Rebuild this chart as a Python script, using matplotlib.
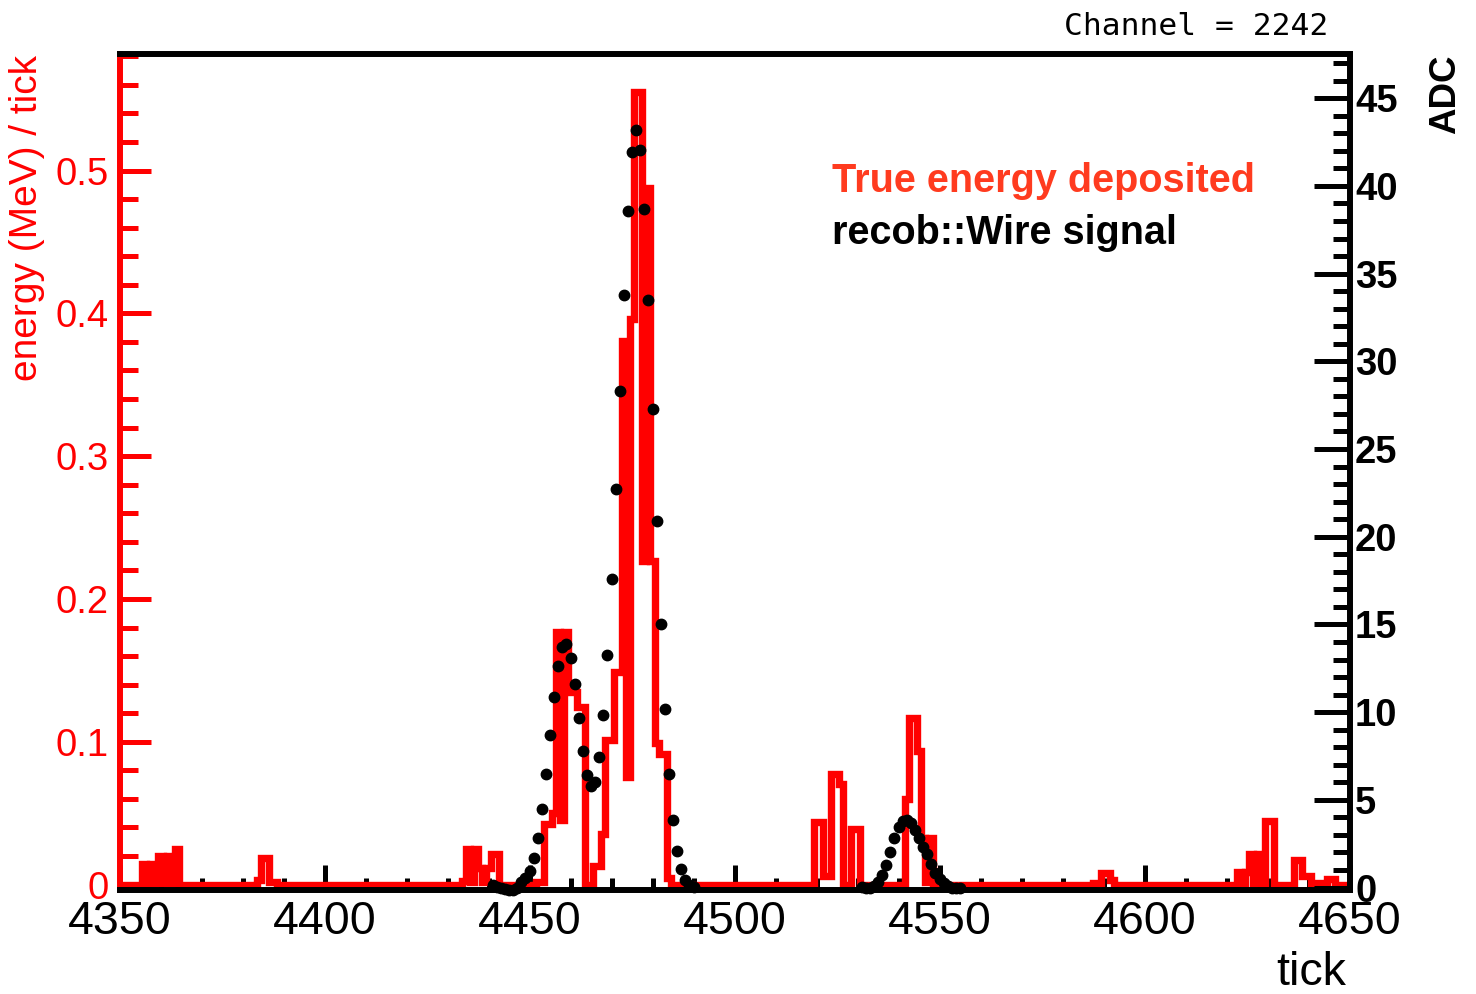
import numpy as np
import matplotlib
matplotlib.use("Agg")
import matplotlib.pyplot as plt
from matplotlib.ticker import MultipleLocator

plt.rcParams['font.family'] = ['Liberation Sans', 'DejaVu Sans']

# true energy deposited per tick (MeV), only the non-empty bins, all others are 0
energy_ticks = [4356, 4357, 4358, 4359, 4360, 4361, 4362, 4363, 4364,
                4384, 4385, 4386, 4387, 4388,
                4434, 4435, 4436, 4437, 4438, 4439, 4440, 4441, 4442,
                4452, 4453, 4454, 4455, 4456, 4457, 4458, 4459, 4460, 4461,
                4462, 4463, 4466, 4467, 4468, 4469, 4470, 4471, 4472,
                4473, 4474, 4475, 4476, 4477, 4478, 4479, 4480, 4481,
                4482, 4483, 4484,
                4520, 4521, 4522, 4523, 4524, 4525, 4526, 4529, 4530,
                4542, 4543, 4544, 4545, 4546, 4547, 4548,
                4588, 4589, 4590, 4591, 4592,
                4623, 4624, 4625, 4626, 4627, 4628, 4630, 4631,
                4637, 4638, 4639, 4640, 4641, 4642, 4643, 4644, 4645, 4646]
energy_vals = [0.0142, 0.0010, 0.0142, 0.0010, 0.0201, 0.0010, 0.0201, 0.0010, 0.0252,
               0.0035, 0.0189, 0.0189, 0.0015, 0.0015,
               0.0026, 0.0247, 0.0020, 0.0247, 0.0119, 0.0020, 0.0119, 0.0212, 0.0212,
               0.0015, 0.0015, 0.0422, 0.0422, 0.0504, 0.1770, 0.0450, 0.1770, 0.1345, 0.1345,
               0.1240, 0.1240, 0.0133, 0.0133, 0.0352, 0.1015, 0.1015, 0.1492, 0.1492,
               0.3803, 0.0750, 0.3959, 0.5551, 0.5551, 0.2269, 0.4881, 0.2269, 0.0994,
               0.0912, 0.0912, 0.0049,
               0.0439, 0.0439, 0.0060, 0.0060, 0.0772, 0.0772, 0.0702, 0.0387, 0.0387,
               0.0597, 0.1169, 0.1169, 0.0936, 0.0329, 0.0020, 0.0329,
               0.0014, 0.0014, 0.0084, 0.0084, 0.0035,
               0.0089, 0.0010, 0.0089, 0.0212, 0.0010, 0.0212, 0.0446, 0.0446,
               0.0173, 0.0173, 0.0063, 0.0063, 0.0014, 0.0014, 0.0014, 0.0014, 0.0042, 0.0042]

# recob::Wire signal (ADC), one point per tick inside the two ROIs
adc_ticks = list(range(4441, 4491)) + list(range(4531, 4556))
adc_vals = [0.15, 0.05, -0.05, -0.1, -0.15, -0.15, -0.05, 0.3, 0.55, 0.95,
            1.67, 2.84, 4.48, 6.47, 8.70, 10.88, 12.64, 13.70, 13.89, 13.11,
            11.59, 9.69, 7.80, 6.42, 5.79, 6.04, 7.43, 9.84, 13.26, 17.6,
            22.7, 28.3, 33.76, 38.55, 41.92, 43.17, 42.07, 38.69, 33.47, 27.28,
            20.87, 15.03, 10.18, 6.47, 3.85, 2.10, 1.04, 0.45, 0.15, 0.02,
            0.05, 0.0, -0.05, 0.1, 0.3, 0.7, 1.3, 2.0, 2.85, 3.45,
            3.8, 3.85, 3.7, 3.3, 2.8, 2.3, 1.9, 1.35, 0.85, 0.5,
            0.25, 0.1, 0.0, -0.05, -0.05]

xticks = [4350, 4400, 4450, 4500, 4550, 4600, 4650]
yticks_left = [0, 0.1, 0.2, 0.3, 0.4, 0.5]
yticks_right = [0, 5, 10, 15, 20, 25, 30, 35, 40, 45]

W, H = 1476, 994
fig = plt.figure(figsize=(W / 100, H / 100), dpi=100)
ax = fig.add_axes([119.5 / W, (H - 890) / H, 1230 / W, 836 / H])

# one bin per tick, centred on the tick number
edges = np.arange(4349.5, 4651, 1.0)
energy = np.zeros(len(edges) - 1)
for t, v in zip(energy_ticks, energy_vals):
    energy[t - 4350] = v
st = ax.stairs(energy, edges, color='red', lw=5.3, baseline=None, zorder=2)
st.set_joinstyle('miter')
st.set_capstyle('butt')

ax.set_xlim(4350, 4650)
ax.set_ylim(-0.0038, 0.5816)
ax.set_xticks(xticks)
ax.set_xticklabels([str(v) for v in xticks])
ax.xaxis.set_minor_locator(MultipleLocator(10))
ax.set_yticks(yticks_left)
ax.set_yticklabels(['0' if v == 0 else f'{v:.1f}' for v in yticks_left])
ax.yaxis.set_minor_locator(MultipleLocator(0.02))
ax.tick_params(axis='x', which='major', direction='in', length=18, width=3.6,
               labelsize=33.5, pad=7, top=False)
ax.tick_params(axis='x', which='minor', direction='in', length=8.5, width=3.6, top=False)
ax.tick_params(axis='y', which='major', direction='in', length=22, width=3.6, color='red',
               labelcolor='red', labelsize=27.5, pad=8, right=False)
ax.tick_params(axis='y', which='minor', direction='in', length=13, width=3.6, color='red',
               right=False)
ax.spines['left'].set_color('red')
ax.spines['right'].set_visible(False)
for s in ['left', 'top', 'bottom']:
    ax.spines[s].set_linewidth(4.3)

ax2 = ax.twinx()
ax2.plot(np.array(adc_ticks), adc_vals, 'o', color='black', ms=7.5, mec='black',
         clip_on=False, zorder=3)
ax2.set_ylim(-0.14, 47.52)
ax2.set_yticks(yticks_right)
ax2.set_yticklabels([str(v) for v in yticks_right], fontweight='bold')
ax2.yaxis.set_minor_locator(MultipleLocator(1))
ax2.tick_params(axis='y', which='major', direction='in', length=26, width=3.6,
                labelsize=27.5, pad=4)
ax2.tick_params(axis='y', which='minor', direction='in', length=12.6, width=3.6)
for s in ['left', 'top', 'bottom']:
    ax2.spines[s].set_visible(False)
ax2.spines['right'].set_linewidth(4.3)

fig.text(1328 / W, 1 - 35 / H, 'Channel = 2242', family='DejaVu Sans Mono', fontsize=22.5,
         ha='right', va='baseline')
fig.text(832 / W, 1 - 192 / H, 'True energy deposited', color='#ff3b1f', fontsize=28.5,
         fontweight='bold', ha='left', va='baseline')
fig.text(832 / W, 1 - 244 / H, 'recob::Wire signal', color='black', fontsize=28.5,
         fontweight='bold', ha='left', va='baseline')
fig.text(27 / W, 1 - 55 / H, 'energy (MeV) / tick', color='red', fontsize=28, rotation=90,
         ha='center', va='top')
fig.text(1446 / W, 1 - 55 / H, 'ADC', color='black', fontsize=26.5, fontweight='bold',
         rotation=90, ha='center', va='top')
fig.text(1346 / W, 1 - 985 / H, 'tick', color='black', fontsize=33.5, ha='right', va='baseline')

fig.savefig('out.png', dpi=100)
